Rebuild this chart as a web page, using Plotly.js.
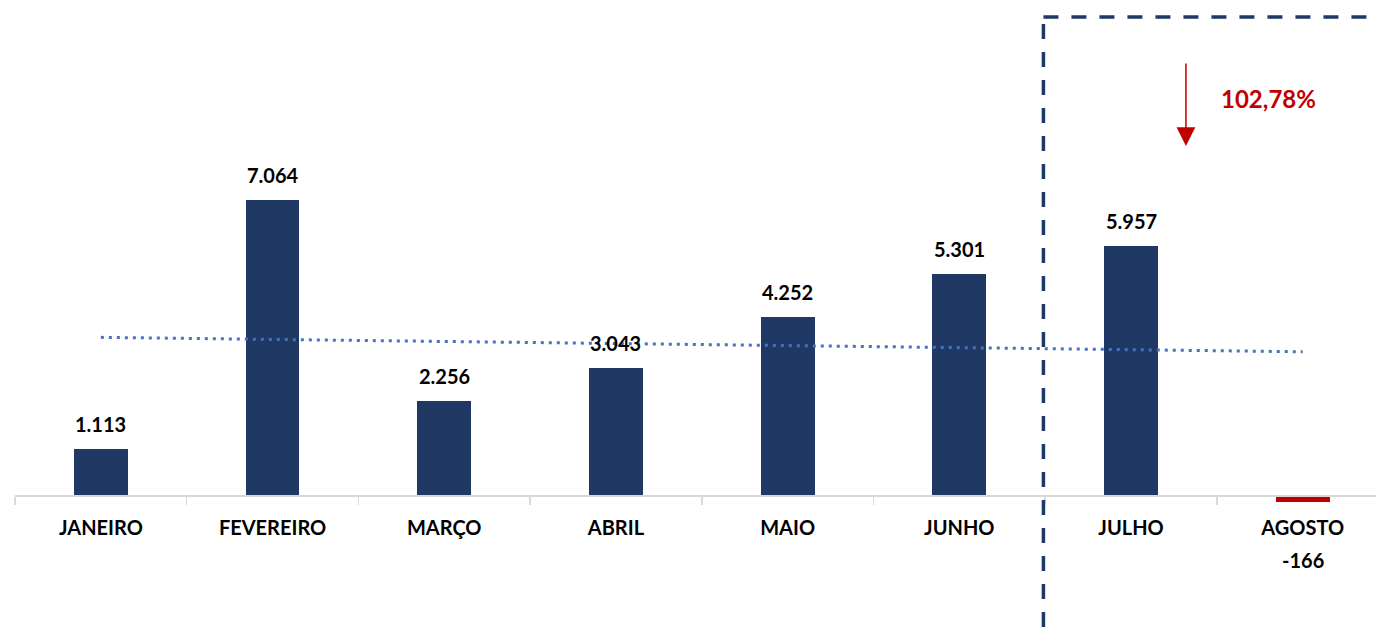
<!DOCTYPE html>
<html>
<head>
<meta charset="utf-8">
<script src="https://cdn.plot.ly/plotly-3.0.1.min.js"></script>
<style>html,body{margin:0;padding:0;background:#fff;}#chart{width:1376px;height:627px;}</style>
</head>
<body>
<div id="chart"></div>
<script>
const months = ['JANEIRO','FEVEREIRO','MARÇO','ABRIL','MAIO','JUNHO','JULHO','AGOSTO'];
const values = [1113, 7064, 2256, 3043, 4252, 5301, 5957, -166];
const valueLabels = ['1.113','7.064','2.256','3.043','4.252','5.301','5.957','-166'];
const trendMonths = ['JANEIRO','AGOSTO'];
const trendValues = [3775, 3430];
const changeLabel = '102,78%';

const NAVY = '#203864', RED = '#C00000', FONT = 'Lato, "Open Sans", sans-serif';

const bars = {
  type: 'bar', x: months, y: values, width: 0.314,
  marker: {color: values.map(v => v < 0 ? RED : NAVY), line: {width: 0}},
  hoverinfo: 'skip'
};
const trend = {
  type: 'scatter', mode: 'lines', x: trendMonths, y: trendValues,
  line: {color: '#4472C4', width: 3, dash: '3px,5px'}, hoverinfo: 'skip'
};

const annotations = values.map((v, i) => ({
  x: months[i], y: v, xref: 'x', yref: 'y', text: valueLabels[i], showarrow: false,
  yanchor: 'middle', yshift: v >= 0 ? 25 : -58,
  font: {family: FONT, size: 20, color: '#000', weight: 700}
}));
annotations.push({
  x: 6.32, y: 8357, xref: 'x', yref: 'y', ax: 0, ay: -84, text: '', showarrow: true,
  arrowcolor: RED, arrowwidth: 1.5, arrowhead: 2, arrowsize: 2.5
});
annotations.push({
  x: 6.8, y: 9500, xref: 'x', yref: 'y', text: changeLabel, showarrow: false,
  font: {family: FONT, size: 24, color: RED, weight: 700}
});

const layout = {
  width: 1376, height: 627,
  margin: {l: 15, r: 0, t: 0, b: 0},
  paper_bgcolor: '#fff', plot_bgcolor: '#fff',
  showlegend: false, bargap: 0,
  xaxis: {
    type: 'category', range: [-0.5, 7.427], anchor: 'free', position: 132/627,
    showline: true, linecolor: '#d9d9d9', linewidth: 1.5,
    ticks: 'outside', tickson: 'boundaries', ticklen: 8, tickcolor: '#d9d9d9', tickwidth: 1.5,
    showgrid: false, zeroline: false,
    tickfont: {family: FONT, size: 20, color: '#000', weight: 700},
    ticklabelstandoff: 14
  },
  yaxis: {range: [-3161, 11853], visible: false, showgrid: false, zeroline: false},
  annotations: annotations,
  shapes: [
    {type: 'line', xref: 'x', yref: 'paper', x0: 5.49, x1: 5.49, y0: 0, y1: (627-17)/627,
     line: {color: NAVY, width: 3.5, dash: '15px,13px'}},
    {type: 'line', xref: 'x', yref: 'paper', x0: 5.49, x1: 8, y0: (627-17)/627, y1: (627-17)/627,
     line: {color: NAVY, width: 3.5, dash: '15px,13px'}}
  ]
};

Plotly.newPlot('chart', [bars, trend], layout, {staticPlot: true, displayModeBar: false});
</script>
</body>
</html>
